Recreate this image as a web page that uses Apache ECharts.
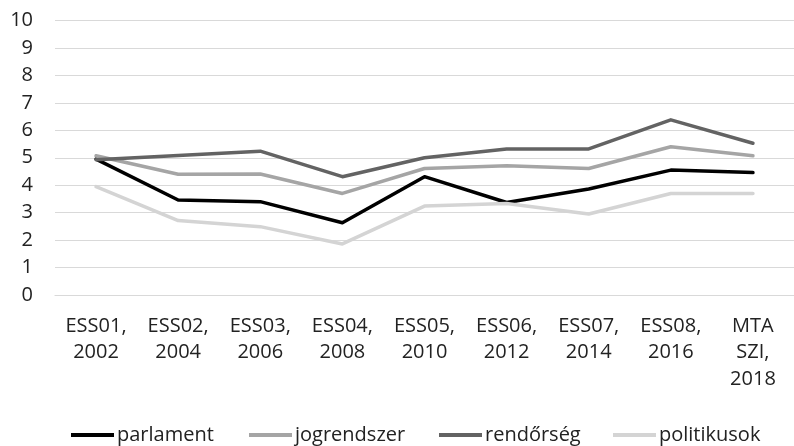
<!DOCTYPE html>
<html>
<head>
<meta charset="utf-8">
<script src="https://cdn.jsdelivr.net/npm/echarts@6/dist/echarts.min.js"></script>
<style>
  html, body { margin: 0; padding: 0; background: #fff; }
  #chart { width: 794px; height: 446px; }
</style>
</head>
<body>
<div id="chart"></div>
<script>
// categories and values
const categories = ['ESS01,\n2002', 'ESS02,\n2004', 'ESS03,\n2006', 'ESS04,\n2008', 'ESS05,\n2010',
    'ESS06,\n2012', 'ESS07,\n2014', 'ESS08,\n2016', 'MTA\nSZI,\n2018'];
const seriesNames = ['parlament', 'jogrendszer', 'rendőrség', 'politikusok'];
const parlament = [4.95, 3.46, 3.40, 2.63, 4.31, 3.37, 3.86, 4.55, 4.46];
const jogrendszer = [5.07, 4.40, 4.41, 3.70, 4.61, 4.71, 4.61, 5.40, 5.07];
const rendorseg = [4.93, 5.08, 5.24, 4.31, 5.00, 5.32, 5.32, 6.38, 5.53];
const politikusok = [3.95, 2.71, 2.49, 1.86, 3.24, 3.33, 2.95, 3.70, 3.70];
const yTicks = [0, 10, 1]; // min, max, interval

document.addEventListener('DOMContentLoaded', function () {
    const chart = echarts.init(document.getElementById('chart'));
    const font = "'Open Sans', sans-serif";
    const colors = ['#000000', '#a5a5a5', '#636363', '#d4d4d4'];
    const values = [parlament, jogrendszer, rendorseg, politikusok];
    const legendLeft = [66, 244, 434, 608];

    // one legend per item so each sits where the original puts it
    const legends = seriesNames.map(function (name, i) {
        return {
            data: [name],
            left: legendLeft[i],
            top: 420,
            icon: 'rect',
            itemWidth: 43,
            itemHeight: 4,
            textStyle: { color: '#222', fontSize: 20, fontFamily: font, padding: [0, 0, 0, -2] }
        };
    });

    const series = seriesNames.map(function (name, i) {
        return {
            name: name,
            type: 'line',
            symbol: 'none',
            data: values[i],
            lineStyle: { color: colors[i], width: 3.5, cap: 'round', join: 'round' },
            itemStyle: { color: colors[i] }
        };
    });

    const option = {
        animation: false,
        textStyle: { fontFamily: font },
        grid: {
            left: 55,
            top: 20.5,
            width: 746,
            bottom: 151
        },
        xAxis: {
            type: 'category',
            data: categories,
            axisLine: { lineStyle: { color: '#d9d9d9', width: 1.2 } },
            axisTick: { show: false },
            axisLabel: {
                interval: 0,
                color: '#222',
                fontSize: 20,
                lineHeight: 26.5,
                margin: 18,
                fontFamily: font
            }
        },
        yAxis: {
            type: 'value',
            min: yTicks[0],
            max: yTicks[1],
            interval: yTicks[2],
            axisLine: { show: false },
            axisTick: { show: false },
            splitLine: { lineStyle: { color: '#d9d9d9', width: 1.2 } },
            axisLabel: {
                color: '#222',
                fontSize: 20,
                margin: 22,
                fontFamily: font
            }
        },
        legend: legends,
        series: series
    };
    chart.setOption(option);
});
</script>
</body>
</html>
